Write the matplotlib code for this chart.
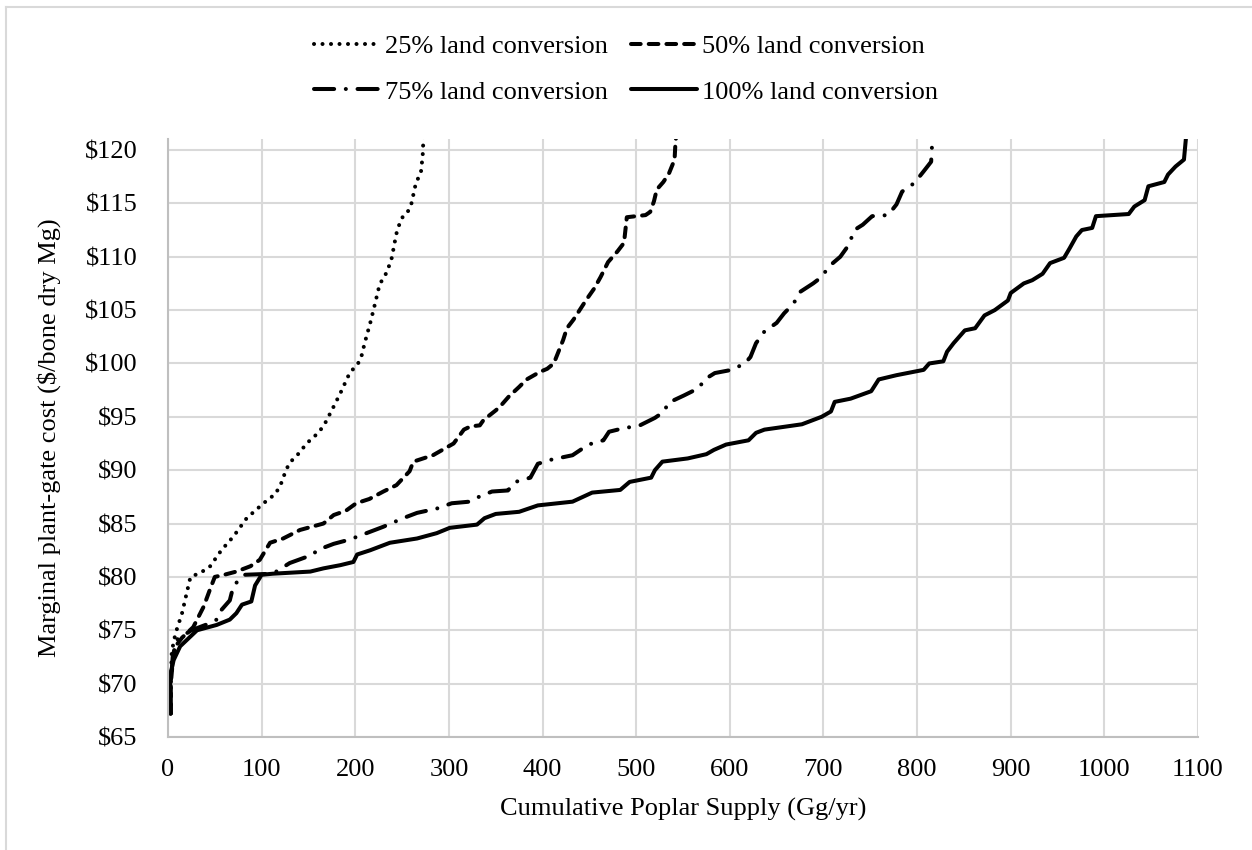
import matplotlib
matplotlib.use("Agg")
import matplotlib.pyplot as plt
from matplotlib.lines import Line2D
from matplotlib.ticker import MultipleLocator, FuncFormatter

plt.rcParams["font.family"] = ["Liberation Serif", "DejaVu Serif"]

# cumulative supply (Gg/yr) and marginal cost ($/Mg)
x_25 = [3, 3, 4, 8, 15, 20, 24, 35, 45, 57,
        70, 84, 102, 115, 121, 126, 130, 140, 148, 158,
        166, 176, 184, 194, 203, 207, 210, 216, 220, 226,
        234, 239, 242, 245, 251, 256, 260, 265, 270, 272, 273]
y_25 = [67.2, 70.0, 73.0, 74.7, 76.6, 78.5, 80.0, 80.4, 81.0, 82.5,
        83.8, 85.5, 86.9, 87.8, 88.8, 90.0, 90.7, 91.6, 92.5, 93.3,
        94.1, 95.8, 97.2, 99.1, 100.0, 100.8, 101.9, 103.8, 105.2, 107.4,
        108.6, 109.9, 111.3, 112.6, 113.8, 114.2, 115.0, 117.0, 117.8, 119.5, 121.5]

x_50 = [3, 3, 5, 8, 15, 27, 38, 46, 50, 60,
        73, 88, 98, 109, 123, 141, 166, 177, 190, 201,
        215, 230, 244, 258, 262, 283, 305, 316, 323, 333,
        337, 350, 355, 364, 375, 383, 397, 405, 412, 422,
        426, 433, 447, 455, 462, 470, 480, 487, 490, 500,
        510, 515, 519, 522, 529, 535, 541, 542, 544]
y_50 = [67.2, 70.0, 72.0, 73.5, 74.3, 75.3, 77.2, 79.1, 80.0, 80.2,
        80.5, 81.0, 81.6, 83.2, 83.6, 84.4, 85.0, 85.8, 86.2, 86.9,
        87.3, 88.0, 88.6, 89.9, 90.8, 91.4, 92.5, 93.8, 94.1, 94.2,
        94.7, 95.6, 96.0, 96.9, 97.8, 98.5, 99.2, 99.5, 100.0, 102.2,
        103.3, 104.1, 106.0, 107.0, 108.1, 109.5, 110.5, 111.3, 113.7, 113.8,
        113.9, 114.2, 115.2, 116.3, 117.0, 117.8, 119.1, 120.8, 122.0]

x_75 = [3, 3, 5, 9, 25, 40, 52, 57, 66, 70,
        82, 112, 130, 155, 159, 177, 194, 212, 230, 251,
        266, 287, 303, 322, 332, 346, 363, 371, 387, 395,
        410, 432, 449, 465, 471, 485, 504, 520, 530, 534,
        551, 567, 573, 584, 602, 616, 622, 628, 637, 650,
        658, 668, 675, 689, 698, 706, 718, 727, 733, 742,
        752, 769, 778, 784, 797, 807, 815, 816, 817]
y_75 = [67.2, 70.0, 72.5, 74.1, 75.0, 75.5, 76.0, 76.9, 77.8, 79.2,
        80.2, 80.3, 81.3, 82.1, 82.5, 83.1, 83.5, 84.1, 84.7, 85.5,
        86.0, 86.4, 86.9, 87.05, 87.5, 88.0, 88.1, 88.9, 89.3, 90.6,
        91.0, 91.4, 92.4, 92.8, 93.6, 93.9, 94.2, 94.9, 95.5, 96.3,
        97.0, 97.7, 98.5, 99.1, 99.4, 100.0, 100.6, 101.9, 103.0, 103.8,
        104.7, 105.6, 106.7, 107.5, 108.1, 109.1, 110.0, 111.1, 112.5, 113.0,
        113.8, 113.9, 114.9, 116.1, 116.9, 118.0, 118.9, 120.5, 122.0]

x_100 = [2, 2, 3, 6, 13, 31, 52, 66, 73, 79,
         89, 93, 100, 112, 152, 166, 184, 198, 202, 216,
         237, 266, 287, 301, 330, 338, 350, 375, 395, 432,
         453, 483, 493, 516, 520, 528, 555, 575, 583, 596,
         620, 628, 637, 677, 698, 708, 712, 729, 751, 759,
         778, 807, 813, 828, 832, 839, 851, 862, 872, 883,
         897, 900, 914, 923, 934, 942, 957, 963, 970, 976,
         987, 991, 1026, 1032, 1043, 1047, 1064, 1068, 1076, 1085,
         1087, 1088]
y_100 = [67.2, 69.5, 71.0, 72.2, 73.5, 75.0, 75.5, 76.0, 76.6, 77.4,
         77.7, 79.2, 80.2, 80.3, 80.5, 80.8, 81.1, 81.4, 82.1, 82.5,
         83.2, 83.6, 84.1, 84.6, 84.9, 85.5, 85.9, 86.1, 86.7, 87.05,
         87.9, 88.15, 88.9, 89.3, 90.0, 90.8, 91.1, 91.5, 91.9, 92.4,
         92.8, 93.5, 93.8, 94.3, 95.0, 95.5, 96.4, 96.7, 97.4, 98.5,
         98.9, 99.4, 100.0, 100.2, 101.1, 101.9, 103.1, 103.3, 104.5, 105.0,
         105.9, 106.6, 107.5, 107.8, 108.4, 109.4, 109.9, 110.8, 111.9, 112.5,
         112.7, 113.8, 114.0, 114.7, 115.3, 116.6, 117.0, 117.7, 118.45, 119.1,
         121.0, 122.0]

labels = ["25% land conversion", "50% land conversion",
          "75% land conversion", "100% land conversion"]

lw = 2.9
fs = 19
styles = [(0, (0.01, 2.1)), (0, (2.4, 2.0)), (0, (5.0, 2.9, 0.01, 2.9)), "-"]

fig = plt.figure(figsize=(12.52, 8.5), dpi=100)
ax = fig.add_axes([168 / 1252, 1 - 737 / 850, 1030 / 1252, 598 / 850])

series = [(x_25, y_25), (x_50, y_50), (x_75, y_75), (x_100, y_100)]
handles = []
for (xs, ys), ls, lab in zip(series, styles, labels):
    ln, = ax.plot(xs, ys, color="black", lw=lw, linestyle=ls,
                  dash_capstyle="round", solid_capstyle="round",
                  solid_joinstyle="round", label=lab)
    handles.append(ln)

ax.set_xlim(0, 1100)
ax.set_ylim(65, 121.03)
ax.xaxis.set_major_locator(MultipleLocator(100))
ax.set_yticks(range(65, 121, 5))
ax.yaxis.set_major_formatter(FuncFormatter(lambda v, p: f"${v:.0f}"))
ax.grid(True, color="#d9d9d9", lw=1.5)
ax.set_axisbelow(True)
for s in ["top", "right"]:
    ax.spines[s].set_visible(False)
for s in ["left", "bottom"]:
    ax.spines[s].set_color("#bfbfbf")
    ax.spines[s].set_linewidth(1.5)
ax.tick_params(length=0, labelsize=fs)
ax.tick_params(axis="y", pad=22)
ax.tick_params(axis="x", pad=16)

ax.set_xlabel("Cumulative Poplar Supply (Gg/yr)", fontsize=fs, labelpad=12)
ax.set_ylabel("Marginal plant-gate cost ($/bone dry Mg)", fontsize=fs, labelpad=17)

# legend: two rows, filled column-wise so order is 25,75 | 50,100
order = [0, 2, 1, 3]
fig.legend([handles[i] for i in order], [labels[i] for i in order],
           loc="center", bbox_to_anchor=(0.5, 1 - 69 / 850), ncol=2,
           frameon=False, fontsize=fs, handlelength=2.5, handletextpad=0.2,
           columnspacing=0.85, labelspacing=0.85)

# chart area border
fig.add_artist(Line2D([6 / 1252, 1], [1 - 7 / 850, 1 - 7 / 850],
                      transform=fig.transFigure, color="#d9d9d9", lw=1.5))
fig.add_artist(Line2D([6 / 1252, 6 / 1252], [0, 1 - 7 / 850],
                      transform=fig.transFigure, color="#d9d9d9", lw=1.5))

fig.savefig("out.png", dpi=100)
